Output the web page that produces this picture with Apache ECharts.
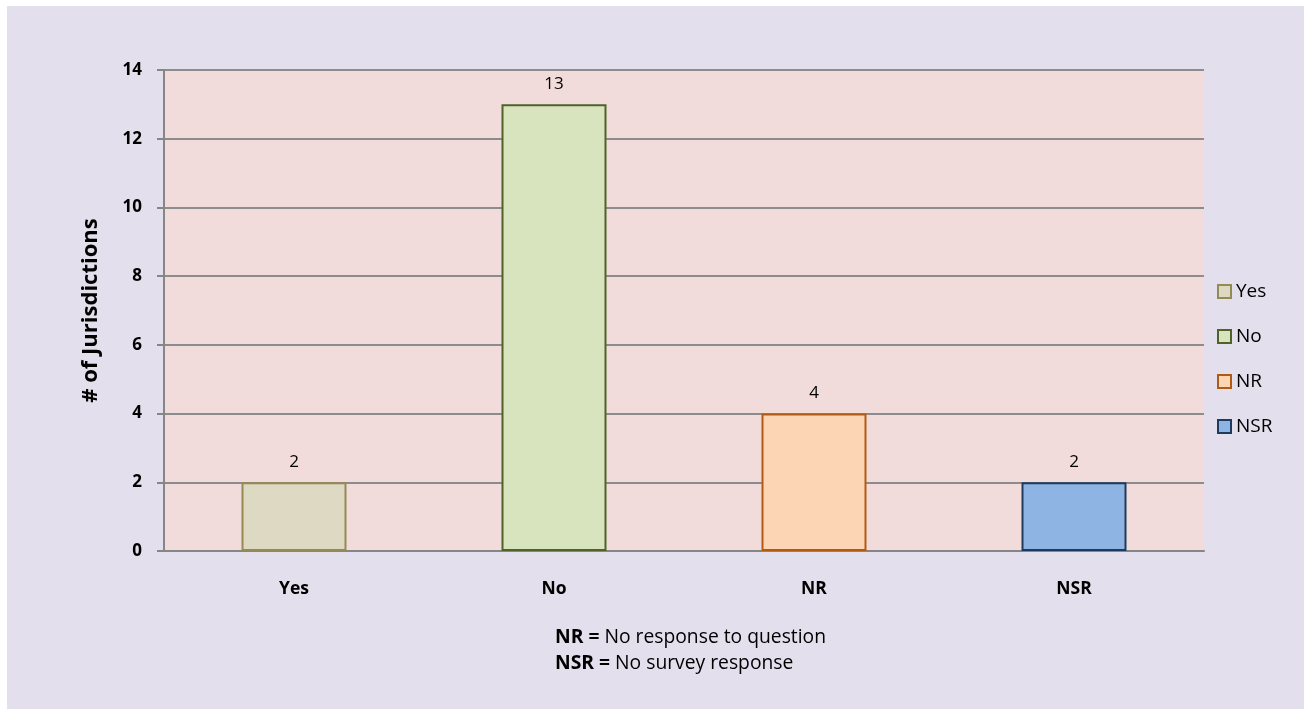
<!DOCTYPE html>
<html>
<head>
<meta charset="utf-8">
<script src="https://cdn.jsdelivr.net/npm/echarts@6/dist/echarts.min.js"></script>
<style>
  html, body { margin: 0; padding: 0; background: #ffffff; }
  #chart { width: 1304px; height: 709px; }
</style>
</head>
<body>
<div id="chart"></div>
<script>
// Survey answers by category
const categories = ['Yes', 'No', 'NR', 'NSR'];
const counts = [2, 13, 4, 2];
const yTicks = { min: 0, max: 14, interval: 2 };

const fills = ['#ddd9c3', '#d7e4bd', '#fcd5b5', '#8eb4e3'];
const borders = ['#948a54', '#4f6228', '#b35a12', '#1f3a5f'];

const FONT = '"Open Sans", Lato, sans-serif';

const series = categories.map((name, i) => ({
  name: name,
  type: 'bar',
  stack: 'all',
  barWidth: 105,
  data: counts.map((v, j) => (j === i ? v : '-')),
  itemStyle: { color: fills[i], borderColor: borders[i], borderWidth: 2 },
  label: {
    show: true,
    position: 'top',
    distance: 12,
    color: '#000',
    fontFamily: FONT,
    fontSize: 17
  }
}));

const chart = echarts.init(document.getElementById('chart'));
chart.setOption({
  backgroundColor: '#ffffff',
  animation: false,
  graphic: [
    {
      type: 'rect',
      z: -10,
      shape: { x: 7, y: 6, width: 1297, height: 703 },
      style: { fill: '#e4dfec' },
      silent: true
    },
    {
      type: 'text',
      left: 555,
      top: 625,
      style: {
        text: '{b|NR =} No response to question\n{b|NSR =} No survey response',
        fontFamily: FONT,
        fontSize: 19.3,
        lineHeight: 26,
        fill: '#000',
        rich: { b: { fontWeight: 'bold', fontFamily: FONT, fontSize: 19.3 } }
      }
    }
  ],
  legend: {
    orient: 'vertical',
    left: 1217,
    top: 282,
    padding: 0,
    itemWidth: 13,
    itemHeight: 13,
    itemGap: 26,
    icon: 'rect',
    textStyle: { fontFamily: FONT, fontSize: 19, color: '#000' },
    data: categories
  },
  grid: { left: 164, right: 100, top: 70, bottom: 158, backgroundColor: '#f2dcdb', show: true, borderWidth: 0 },
  xAxis: {
    type: 'category',
    data: categories,
    axisLine: { lineStyle: { color: '#868686', width: 2 } },
    axisTick: { show: false },
    axisLabel: { color: '#000', fontFamily: FONT, fontWeight: 'bold', fontSize: 17.5, margin: 29 }
  },
  yAxis: {
    type: 'value',
    min: yTicks.min,
    max: yTicks.max,
    interval: yTicks.interval,
    name: '# of Jurisdictions',
    nameLocation: 'middle',
    nameGap: 62,
    nameTextStyle: { color: '#000', fontFamily: FONT, fontWeight: 'bold', fontSize: 22 },
    axisLine: { show: true, lineStyle: { color: '#868686', width: 2 } },
    axisTick: { show: true, length: 7, lineStyle: { color: '#868686', width: 2 } },
    axisLabel: { color: '#000', fontFamily: FONT, fontWeight: 'bold', fontSize: 17, margin: 22 },
    splitLine: { show: true, lineStyle: { color: '#8c8c8c', width: 2 } }
  },
  series: series
});
</script>
</body>
</html>
